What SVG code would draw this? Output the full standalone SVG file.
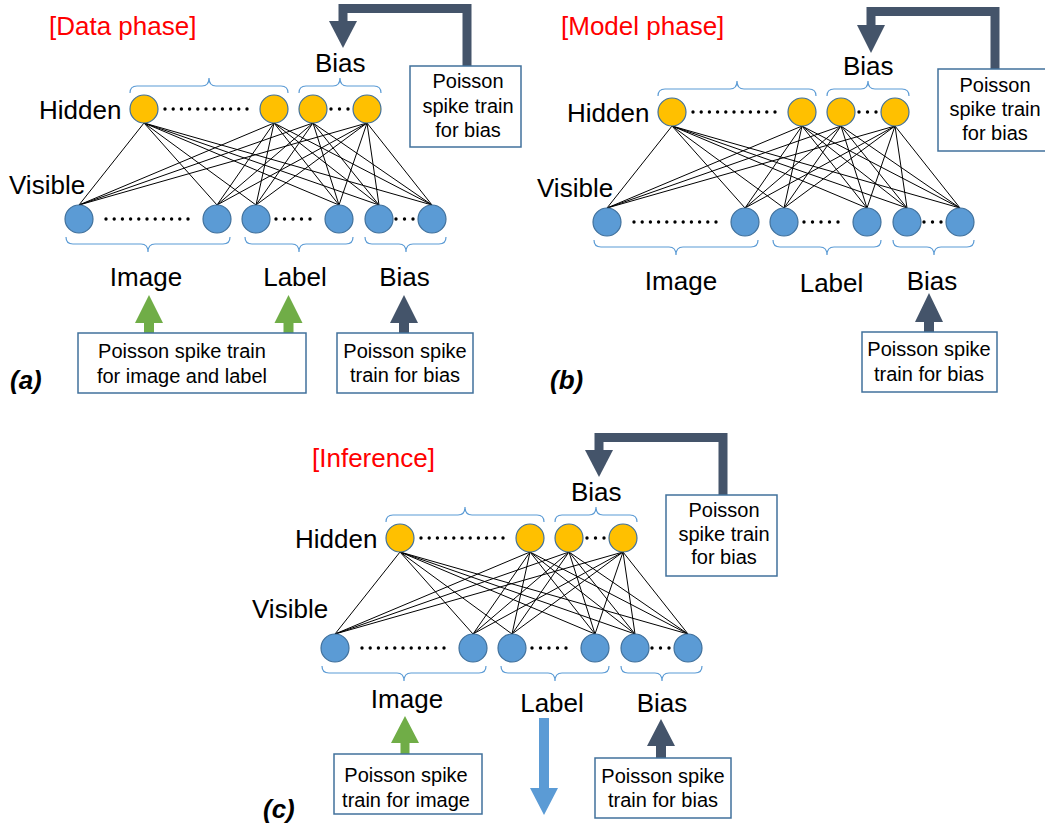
<svg xmlns="http://www.w3.org/2000/svg" width="1045" height="827" viewBox="0 0 1045 827">
<style>
text{font-family:"Liberation Sans",Arial,sans-serif;fill:#000}
.lbl{font-size:26px}
.title{font-size:26px;fill:#ff0000}
.bt{font-size:20px;text-anchor:middle}
.mid{text-anchor:middle}
.tag{font-size:26px;font-weight:bold;font-style:italic}
.hid{fill:#ffc000;stroke:#41719c;stroke-width:1.2}
.vis{fill:#5b9bd5;stroke:#41719c;stroke-width:1.2}
.conn line{stroke:#000;stroke-width:1}
.brace{fill:none;stroke:#5b9bd5;stroke-width:1.2}
.dots{stroke:#000;stroke-width:3.4;stroke-linecap:round}
.box{fill:#fff;stroke:#41719c;stroke-width:1.5}
.fb{fill:none;stroke:#44546a;stroke-width:9;stroke-linejoin:miter}
.dark{fill:#44546a}
.green{fill:#70ad47}
.blue{fill:#5b9bd5}
</style>

<!-- Panel (a) -->
<g id="panel-a">
  <text class="title" x="49" y="35">[Data phase]</text>
  <g id="a-connectors" class="conn">
    <line x1="144" y1="123" x2="79" y2="205"/><line x1="144" y1="123" x2="217" y2="205"/><line x1="144" y1="123" x2="256" y2="205"/><line x1="144" y1="123" x2="339" y2="205"/><line x1="144" y1="123" x2="379" y2="205"/><line x1="144" y1="123" x2="432" y2="205"/>
    <line x1="274" y1="123" x2="79" y2="205"/><line x1="274" y1="123" x2="217" y2="205"/><line x1="274" y1="123" x2="256" y2="205"/><line x1="274" y1="123" x2="339" y2="205"/><line x1="274" y1="123" x2="379" y2="205"/><line x1="274" y1="123" x2="432" y2="205"/>
    <line x1="313" y1="123" x2="79" y2="205"/><line x1="313" y1="123" x2="217" y2="205"/><line x1="313" y1="123" x2="256" y2="205"/><line x1="313" y1="123" x2="339" y2="205"/><line x1="313" y1="123" x2="379" y2="205"/><line x1="313" y1="123" x2="432" y2="205"/>
    <line x1="367" y1="123" x2="79" y2="205"/><line x1="367" y1="123" x2="217" y2="205"/><line x1="367" y1="123" x2="256" y2="205"/><line x1="367" y1="123" x2="339" y2="205"/><line x1="367" y1="123" x2="379" y2="205"/><line x1="367" y1="123" x2="432" y2="205"/>
    <path class="fb" d="M467,66 L467,8.5 L343,8.5 L343,22"/>
    <polygon class="dark" points="329,21 357,21 343,48"/>
  </g>
  <path class="brace" d="M130,93 Q130,86 137,86 L202,86 Q209,86 209,78 Q209,86 216,86 L281,86 Q288,86 288,93"/>
  <path class="brace" d="M299,93 Q299,86 306,86 L333,86 Q340,86 340,78 Q340,86 347,86 L374,86 Q381,86 381,93"/>
  <path class="brace" d="M66,237 Q66,244 73,244 L141,244 Q148,244 148,252 Q148,244 155,244 L223,244 Q230,244 230,237"/>
  <path class="brace" d="M245,237 Q245,244 252,244 L292,244 Q299,244 299,252 Q299,244 306,244 L346,244 Q353,244 353,237"/>
  <path class="brace" d="M365,237 Q365,244 372,244 L399,244 Q406,244 406,252 Q406,244 413,244 L439,244 Q446,244 446,237"/>
  <text class="lbl" x="315" y="72">Bias</text>
  <text class="lbl" x="39" y="119">Hidden</text>
  <text class="lbl" x="9" y="194">Visible</text>
  <g id="a-h1"><circle class="hid" cx="144" cy="109" r="14"/></g>
  <g id="a-h2"><circle class="hid" cx="274" cy="109" r="14"/></g>
  <g id="a-h3"><circle class="hid" cx="313" cy="109" r="14"/></g>
  <g id="a-h4"><circle class="hid" cx="367" cy="109" r="14"/></g>
  <g id="a-v1"><circle class="vis" cx="79" cy="219" r="14"/></g>
  <g id="a-v2"><circle class="vis" cx="217" cy="219" r="14"/></g>
  <g id="a-v3"><circle class="vis" cx="256" cy="219" r="14"/></g>
  <g id="a-v4"><circle class="vis" cx="339" cy="219" r="14"/></g>
  <g id="a-v5"><circle class="vis" cx="379" cy="219" r="14"/></g>
  <g id="a-v6"><circle class="vis" cx="432" cy="219" r="14"/></g>
  <line class="dots" x1="165" y1="109" x2="247.5" y2="109" stroke-dasharray="0 8.2"/>
  <line class="dots" x1="331" y1="109" x2="348.5" y2="109" stroke-dasharray="0 8.5"/>
  <line class="dots" x1="106" y1="219" x2="188.5" y2="219" stroke-dasharray="0 8.2"/>
  <line class="dots" x1="276" y1="219" x2="310.5" y2="219" stroke-dasharray="0 8.5"/>
  <line class="dots" x1="396" y1="219" x2="413.5" y2="219" stroke-dasharray="0 8.5"/>
  <g id="a-biasbox-top">
    <rect class="box" x="410" y="66" width="111" height="81"/>
    <text class="bt" x="468" y="88">Poisson</text>
    <text class="bt" x="468" y="113">spike train</text>
    <text class="bt" x="468" y="137">for bias</text>
  </g>
</g>
<g id="panel-a-bottom">
  <text class="lbl mid" x="146" y="286">Image</text>
  <text class="lbl mid" x="295" y="286">Label</text>
  <text class="lbl mid" x="404.5" y="286">Bias</text>
  <g id="a-arrows">
    <polygon class="green" points="144,334 144,323 135,323 149,295 163,323 154,323 154,334"/>
    <polygon class="green" points="283.5,334 283.5,323 274.5,323 288.5,295 302.5,323 293.5,323 293.5,334"/>
    <polygon class="dark" points="399,334 399,323 390,323 404,295 418,323 409,323 409,334"/>
  </g>
  <g id="a-databox">
    <rect class="box" x="78" y="333" width="228" height="60"/>
    <text class="bt" x="182" y="358">Poisson spike train</text>
    <text class="bt" x="182" y="383">for image and label</text>
  </g>
  <g id="a-biasbox">
    <rect class="box" x="337" y="333" width="136" height="60"/>
    <text class="bt" x="405" y="358">Poisson spike</text>
    <text class="bt" x="405" y="382">train for bias</text>
  </g>
  <text class="tag" x="10" y="389">(a)</text>
</g>

<!-- Panel (b) -->
<g id="panel-b" transform="translate(528,3)">
  <text class="title" x="33" y="32">[Model phase]</text>
  <g id="b-connectors" class="conn">
    <line x1="144" y1="123" x2="79" y2="205"/><line x1="144" y1="123" x2="217" y2="205"/><line x1="144" y1="123" x2="256" y2="205"/><line x1="144" y1="123" x2="339" y2="205"/><line x1="144" y1="123" x2="379" y2="205"/><line x1="144" y1="123" x2="432" y2="205"/>
    <line x1="274" y1="123" x2="79" y2="205"/><line x1="274" y1="123" x2="217" y2="205"/><line x1="274" y1="123" x2="256" y2="205"/><line x1="274" y1="123" x2="339" y2="205"/><line x1="274" y1="123" x2="379" y2="205"/><line x1="274" y1="123" x2="432" y2="205"/>
    <line x1="313" y1="123" x2="79" y2="205"/><line x1="313" y1="123" x2="217" y2="205"/><line x1="313" y1="123" x2="256" y2="205"/><line x1="313" y1="123" x2="339" y2="205"/><line x1="313" y1="123" x2="379" y2="205"/><line x1="313" y1="123" x2="432" y2="205"/>
    <line x1="367" y1="123" x2="79" y2="205"/><line x1="367" y1="123" x2="217" y2="205"/><line x1="367" y1="123" x2="256" y2="205"/><line x1="367" y1="123" x2="339" y2="205"/><line x1="367" y1="123" x2="379" y2="205"/><line x1="367" y1="123" x2="432" y2="205"/>
    <path class="fb" d="M467,66 L467,8.5 L343,8.5 L343,23"/>
    <polygon class="dark" points="329,22 357,22 343,50"/>
  </g>
  <path class="brace" d="M130,93 Q130,86 137,86 L202,86 Q209,86 209,78 Q209,86 216,86 L281,86 Q288,86 288,93"/>
  <path class="brace" d="M299,93 Q299,86 306,86 L333,86 Q340,86 340,78 Q340,86 347,86 L374,86 Q381,86 381,93"/>
  <path class="brace" d="M66,237 Q66,244 73,244 L141,244 Q148,244 148,252 Q148,244 155,244 L223,244 Q230,244 230,237"/>
  <path class="brace" d="M245,237 Q245,244 252,244 L292,244 Q299,244 299,252 Q299,244 306,244 L346,244 Q353,244 353,237"/>
  <path class="brace" d="M365,237 Q365,244 372,244 L399,244 Q406,244 406,252 Q406,244 413,244 L439,244 Q446,244 446,237"/>
  <text class="lbl" x="315" y="72">Bias</text>
  <text class="lbl" x="39" y="119">Hidden</text>
  <text class="lbl" x="9" y="194">Visible</text>
  <g id="b-h1"><circle class="hid" cx="144" cy="109" r="14"/></g>
  <g id="b-h2"><circle class="hid" cx="274" cy="109" r="14"/></g>
  <g id="b-h3"><circle class="hid" cx="313" cy="109" r="14"/></g>
  <g id="b-h4"><circle class="hid" cx="367" cy="109" r="14"/></g>
  <g id="b-v1"><circle class="vis" cx="79" cy="219" r="14"/></g>
  <g id="b-v2"><circle class="vis" cx="217" cy="219" r="14"/></g>
  <g id="b-v3"><circle class="vis" cx="256" cy="219" r="14"/></g>
  <g id="b-v4"><circle class="vis" cx="339" cy="219" r="14"/></g>
  <g id="b-v5"><circle class="vis" cx="379" cy="219" r="14"/></g>
  <g id="b-v6"><circle class="vis" cx="432" cy="219" r="14"/></g>
  <line class="dots" x1="165" y1="109" x2="247.5" y2="109" stroke-dasharray="0 8.2"/>
  <line class="dots" x1="331" y1="109" x2="348.5" y2="109" stroke-dasharray="0 8.5"/>
  <line class="dots" x1="106" y1="219" x2="188.5" y2="219" stroke-dasharray="0 8.2"/>
  <line class="dots" x1="276" y1="219" x2="310.5" y2="219" stroke-dasharray="0 8.5"/>
  <line class="dots" x1="396" y1="219" x2="413.5" y2="219" stroke-dasharray="0 8.5"/>
  <g id="b-biasbox-top">
    <rect class="box" x="410" y="66" width="130" height="82"/>
    <text class="bt" x="467" y="89">Poisson</text>
    <text class="bt" x="467" y="113">spike train</text>
    <text class="bt" x="467" y="137">for bias</text>
  </g>
</g>
<g id="panel-b-bottom">
  <text class="lbl mid" x="681" y="290">Image</text>
  <text class="lbl mid" x="831.5" y="292">Label</text>
  <text class="lbl mid" x="932" y="290">Bias</text>
  <g id="b-arrows">
    <polygon class="dark" points="924,333 924,322 915,322 929,293 943,322 934,322 934,333"/>
  </g>
  <g id="b-biasbox">
    <rect class="box" x="862" y="332" width="135" height="60"/>
    <text class="bt" x="929" y="356">Poisson spike</text>
    <text class="bt" x="929" y="381">train for bias</text>
  </g>
  <text class="tag" x="550" y="389">(b)</text>
</g>

<!-- Panel (c) -->
<g id="panel-c" transform="translate(256,429)">
  <text class="title" x="56" y="38">[Inference]</text>
  <g id="c-connectors" class="conn">
    <line x1="144" y1="123" x2="79" y2="205"/><line x1="144" y1="123" x2="217" y2="205"/><line x1="144" y1="123" x2="256" y2="205"/><line x1="144" y1="123" x2="339" y2="205"/><line x1="144" y1="123" x2="379" y2="205"/><line x1="144" y1="123" x2="432" y2="205"/>
    <line x1="274" y1="123" x2="79" y2="205"/><line x1="274" y1="123" x2="217" y2="205"/><line x1="274" y1="123" x2="256" y2="205"/><line x1="274" y1="123" x2="339" y2="205"/><line x1="274" y1="123" x2="379" y2="205"/><line x1="274" y1="123" x2="432" y2="205"/>
    <line x1="313" y1="123" x2="79" y2="205"/><line x1="313" y1="123" x2="217" y2="205"/><line x1="313" y1="123" x2="256" y2="205"/><line x1="313" y1="123" x2="339" y2="205"/><line x1="313" y1="123" x2="379" y2="205"/><line x1="313" y1="123" x2="432" y2="205"/>
    <line x1="367" y1="123" x2="79" y2="205"/><line x1="367" y1="123" x2="217" y2="205"/><line x1="367" y1="123" x2="256" y2="205"/><line x1="367" y1="123" x2="339" y2="205"/><line x1="367" y1="123" x2="379" y2="205"/><line x1="367" y1="123" x2="432" y2="205"/>
    <path class="fb" d="M467,66 L467,8.5 L343,8.5 L343,22"/>
    <polygon class="dark" points="329,21 357,21 343,48"/>
  </g>
  <path class="brace" d="M130,93 Q130,86 137,86 L202,86 Q209,86 209,78 Q209,86 216,86 L281,86 Q288,86 288,93"/>
  <path class="brace" d="M299,93 Q299,86 306,86 L333,86 Q340,86 340,78 Q340,86 347,86 L374,86 Q381,86 381,93"/>
  <path class="brace" d="M66,237 Q66,244 73,244 L141,244 Q148,244 148,252 Q148,244 155,244 L223,244 Q230,244 230,237"/>
  <path class="brace" d="M245,237 Q245,244 252,244 L292,244 Q299,244 299,252 Q299,244 306,244 L346,244 Q353,244 353,237"/>
  <path class="brace" d="M365,237 Q365,244 372,244 L399,244 Q406,244 406,252 Q406,244 413,244 L439,244 Q446,244 446,237"/>
  <text class="lbl" x="315" y="72">Bias</text>
  <text class="lbl" x="39" y="119">Hidden</text>
  <text class="lbl" x="-4" y="189">Visible</text>
  <g id="c-h1"><circle class="hid" cx="144" cy="109" r="14"/></g>
  <g id="c-h2"><circle class="hid" cx="274" cy="109" r="14"/></g>
  <g id="c-h3"><circle class="hid" cx="313" cy="109" r="14"/></g>
  <g id="c-h4"><circle class="hid" cx="367" cy="109" r="14"/></g>
  <g id="c-v1"><circle class="vis" cx="79" cy="219" r="14"/></g>
  <g id="c-v2"><circle class="vis" cx="217" cy="219" r="14"/></g>
  <g id="c-v3"><circle class="vis" cx="256" cy="219" r="14"/></g>
  <g id="c-v4"><circle class="vis" cx="339" cy="219" r="14"/></g>
  <g id="c-v5"><circle class="vis" cx="379" cy="219" r="14"/></g>
  <g id="c-v6"><circle class="vis" cx="432" cy="219" r="14"/></g>
  <line class="dots" x1="165" y1="109" x2="247.5" y2="109" stroke-dasharray="0 8.2"/>
  <line class="dots" x1="331" y1="109" x2="348.5" y2="109" stroke-dasharray="0 8.5"/>
  <line class="dots" x1="106" y1="219" x2="188.5" y2="219" stroke-dasharray="0 8.2"/>
  <line class="dots" x1="276" y1="219" x2="310.5" y2="219" stroke-dasharray="0 8.5"/>
  <line class="dots" x1="396" y1="219" x2="413.5" y2="219" stroke-dasharray="0 8.5"/>
  <g id="c-biasbox-top">
    <rect class="box" x="410" y="66" width="111" height="81"/>
    <text class="bt" x="468" y="88">Poisson</text>
    <text class="bt" x="468" y="112">spike train</text>
    <text class="bt" x="468" y="135">for bias</text>
  </g>
</g>
<g id="panel-c-bottom">
  <text class="lbl mid" x="407" y="708">Image</text>
  <text class="lbl mid" x="552" y="712">Label</text>
  <text class="lbl mid" x="662" y="712">Bias</text>
  <g id="c-arrows">
    <polygon class="green" points="400.5,754 400.5,743 391,743 405,716 419,743 409.5,743 409.5,754"/>
    <polygon class="blue" points="539,718 549,718 549,788 558,788 544,815 530,788 539,788"/>
    <polygon class="dark" points="656,758 656,746 647,746 661,719 675,746 666,746 666,758"/>
  </g>
  <g id="c-imagebox">
    <rect class="box" x="334" y="754" width="148" height="60"/>
    <text class="bt" x="406" y="782">Poisson spike</text>
    <text class="bt" x="406" y="807">train for image</text>
  </g>
  <g id="c-biasbox">
    <rect class="box" x="595" y="758" width="136" height="60"/>
    <text class="bt" x="663" y="783">Poisson spike</text>
    <text class="bt" x="663" y="807">train for bias</text>
  </g>
  <text class="tag" x="263" y="818">(c)</text>
</g>
</svg>
